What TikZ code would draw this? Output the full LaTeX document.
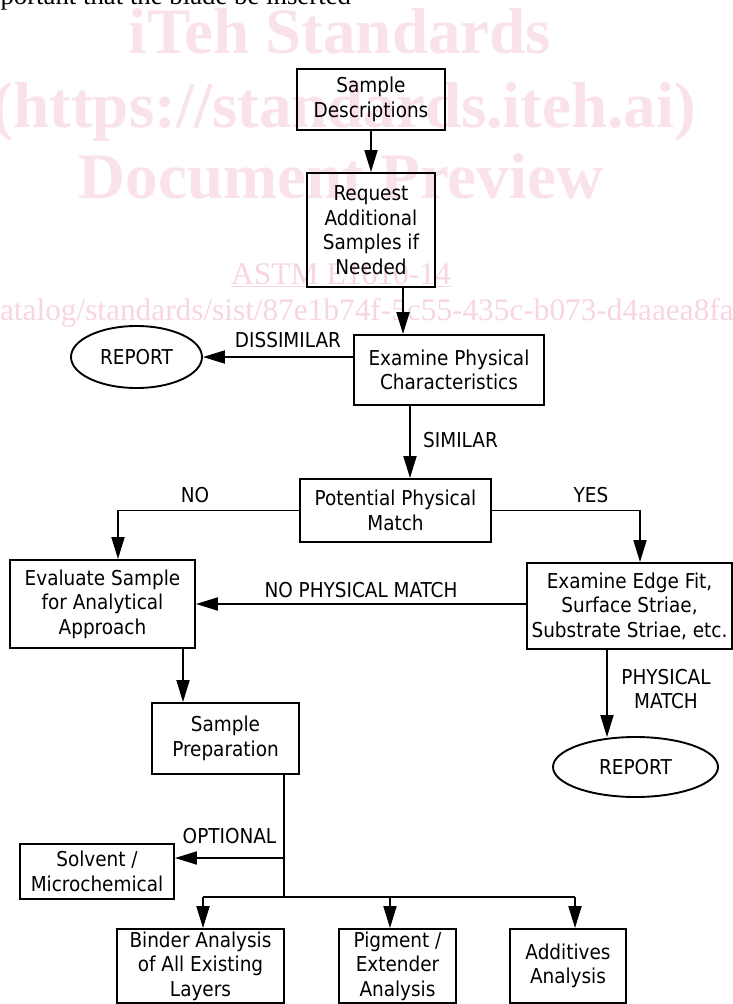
\documentclass[tikz,border=0pt]{standalone}
\usepackage{fontspec}
\setmainfont{Liberation Serif}
\newfontfamily\diafont{DejaVu Sans Condensed}
\usetikzlibrary{arrows.meta,shapes.geometric}
\definecolor{wm}{RGB}{250,226,234}
\definecolor{wmlink}{RGB}{247,214,225}
\tikzset{
  dtext/.style={font=\diafont\fontsize{20.5}{24.5}\selectfont},
  box/.style={draw, line width=1.9pt, inner sep=0pt, align=center, dtext},
  oval/.style={ellipse, draw, line width=1.9pt, inner sep=0pt, dtext},
  conn/.style={line width=1.9pt},
  arr/.style={conn, -{Triangle[length=22pt,width=13pt]}},
  lbl/.style={inner sep=0pt, align=center, dtext},
  wmbig/.style={text=wm, inner sep=0pt, anchor=base, font=\fontsize{65}{65}\selectfont\bfseries},
}
\begin{document}
\begin{tikzpicture}[x=1pt,y=-1pt]
\useasboundingbox (0,0) rectangle (733,1004);
\fill[white] (0,0) rectangle (733,1004);
% page text and watermark
\node[anchor=base west, inner sep=0pt, font=\fontsize{26.8}{30}\selectfont] (hdr) at (-28,4) {important that the blade be inserted};
\node[wmbig] (wm1) at (340,53) {iTeh Standards};
\node[wmbig] (wm2) at (344,127) {(https://standards.iteh.ai)};
\node[wmbig] (wm3) at (341,198) {Document Preview};
\node[text=wmlink, inner sep=0pt, anchor=base, font=\fontsize{31.5}{34}\selectfont] (wm4) at (341,284) {\underline{ASTM E1610-14}};
\node[text=wmlink, inner sep=0pt, anchor=base west, font=\fontsize{31.3}{34}\selectfont] (wm5) at (-14,320) {catalog/standards/sist/87e1b74f-5c55-435c-b073-d4aaea8fa};

% boxes
\node[box, minimum width=148pt, minimum height=61pt] (sd) at (371,99.5) {Sample\\Descriptions};
\node[box, minimum width=128pt, minimum height=114pt] (req) at (371,230) {Request\\Additional\\Samples if\\Needed};
\node[box, minimum width=190pt, minimum height=70pt] (epc) at (449,370) {Examine Physical\\Characteristics};
\node[oval, minimum width=131pt, minimum height=62pt] (rep1) at (136.5,357) {REPORT};
\node[box, minimum width=191pt, minimum height=63pt] (ppm) at (395.5,510.5) {Potential Physical\\Match};
\node[box, minimum width=185pt, minimum height=88pt] (eval) at (102.5,604) {Evaluate Sample\\for Analytical\\Approach};
\node[box, minimum width=205pt, minimum height=86pt] (edge) at (629.5,606) {Examine Edge Fit,\\Surface Striae,\\Substrate Striae, etc.};
\node[box, minimum width=147pt, minimum height=71pt] (prep) at (225.5,738.5) {Sample\\Preparation};
\node[oval, minimum width=165pt, minimum height=60pt] (rep2) at (635.5,767) {REPORT};
\node[box, minimum width=154pt, minimum height=55pt] (solv) at (97,871.5) {Solvent /\\Microchemical};
\node[box, minimum width=167pt, minimum height=74pt] (binder) at (200.5,966) {Binder Analysis\\of All Existing\\Layers};
\node[box, minimum width=117pt, minimum height=74pt] (pig) at (397.5,966) {Pigment /\\Extender\\Analysis};
\node[box, minimum width=116pt, minimum height=74pt] (add) at (568,966) {Additives\\Analysis};

% helper coordinates
\coordinate (x1) at (403,0);
\coordinate (x2) at (410,0);
\coordinate (xno) at (118,0);
\coordinate (xyes) at (640,0);
\coordinate (x3) at (183,0);
\coordinate (x4) at (607,0);
\coordinate (x5) at (284,0);
\coordinate (opt) at (284,858);
\coordinate (bus) at (284,897);
\coordinate (b1) at (203,897);
\coordinate (b2) at (390,897);
\coordinate (b3) at (575,897);

% connectors
\draw[arr] (sd.south) -- (req.north);
\draw[arr] (req.south -| x1) -- (epc.north -| x1);
\draw[arr] (epc.west |- rep1.east) -- (rep1.east);
\draw[arr] (epc.south -| x2) -- (ppm.north -| x2);
\draw[arr] (ppm.west) -| (eval.north -| xno);
\draw[arr] (ppm.east) -| (edge.north -| xyes);
\draw[arr] (edge.west |- eval.east) -- (eval.east);
\draw[arr] (eval.south -| x3) -- (prep.north -| x3);
\draw[arr] (edge.south -| x4) -- ([yshift=-1pt]rep2.north -| x4);
\draw[conn] (prep.south -| x5) -- (bus);
\draw[arr] (opt) -- (opt -| solv.east);
\draw[conn] (b1) -- (b3);
\draw[arr] (b1) -- (b1 |- binder.north);
\draw[arr] (b2) -- (b2 |- pig.north);
\draw[arr] (b3) -- (b3 |- add.north);

% labels
\node[lbl] (l1) at (288,340) {DISSIMILAR};
\node[lbl, anchor=west] (l2) at (423,440) {SIMILAR};
\node[lbl] (l3) at (195,495) {NO};
\node[lbl] (l4) at (591,495) {YES};
\node[lbl] (l5) at (361,590) {NO PHYSICAL MATCH};
\node[lbl] (l6) at (666,689) {PHYSICAL\\MATCH};
\node[lbl] (l7) at (229.5,836) {OPTIONAL};
\end{tikzpicture}
\end{document}
